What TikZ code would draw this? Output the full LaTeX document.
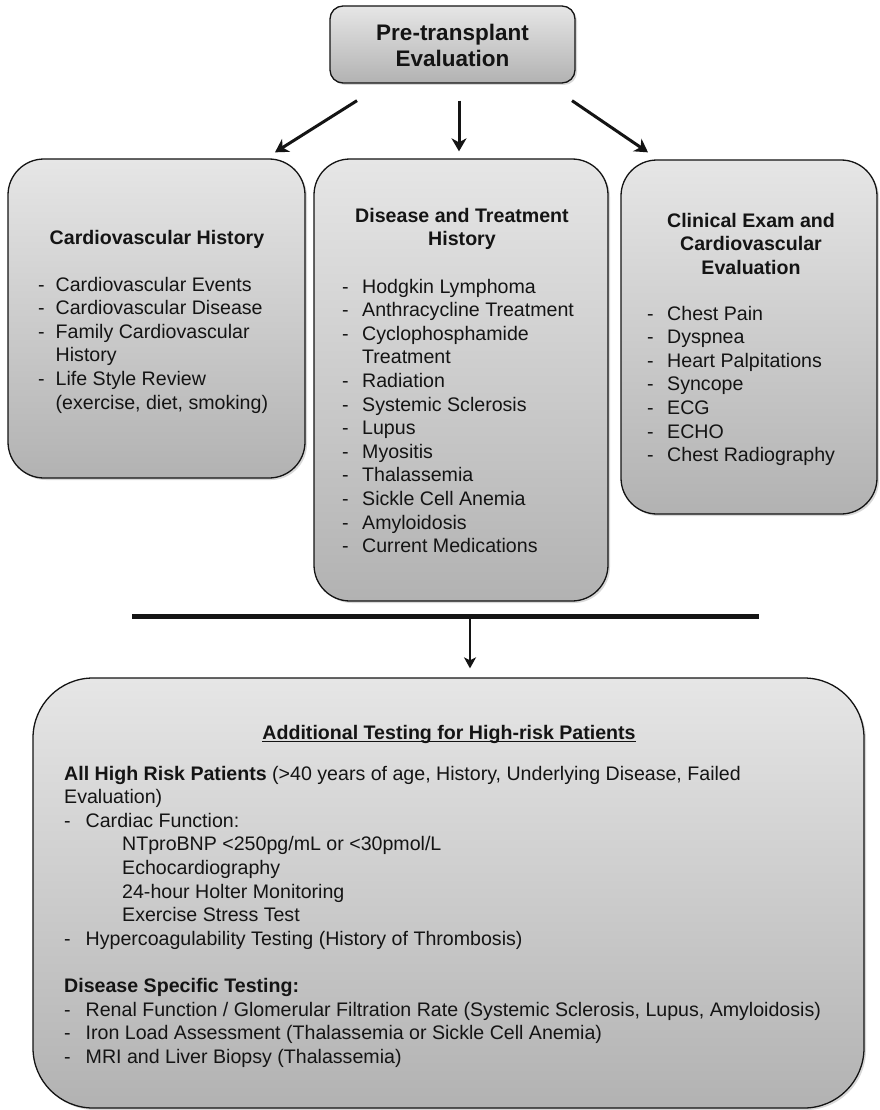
\documentclass[tikz,border=0pt]{standalone}
\usepackage{fontspec}
\setmainfont{Liberation Sans}
\usetikzlibrary{arrows.meta,shadows}
\definecolor{boxtop}{RGB}{230,230,230}
\definecolor{boxbot}{RGB}{178,178,178}
\definecolor{ink}{RGB}{20,20,20}
\newcommand\myitem[1][20pt]{\makebox[#1][l]{-}}
\newcommand\mycont[1][20pt]{\hspace*{#1}}
\newcommand\mysize{\fontsize{19.6}{23.6}\selectfont}
\newcommand\myul[1]{\setbox0\hbox{#1}\rlap{\rule[-3pt]{\wd0}{1.5pt}}\box0}
\begin{document}
\begin{tikzpicture}[x=1pt,y=-1pt,
  box/.style={draw=ink, line width=1.3pt, top color=boxtop, bottom color=boxbot, rectangle, inner sep=0pt,
    drop shadow={shadow xshift=2pt,shadow yshift=-2pt,opacity=0.3}},
  txt/.style={inner sep=0pt, font=\mysize, text=ink},
  arr/.style={line width=3pt, draw=ink, -{Stealth[length=13pt,width=15pt,inset=4pt]}},
  arrb/.style={line width=2pt, draw=ink, -{Stealth[length=11pt,width=12pt,inset=3pt]}}]

\fill[white] (0,0) rectangle (879,1110);
\useasboundingbox (0,0) rectangle (879,1110);

% boxes
\node[box, rounded corners=13pt, minimum width=245pt, minimum height=77pt] (top) at (452.5,44.5) {};
\node[box, rounded corners=36pt, minimum width=297pt, minimum height=319pt] (cv) at (156.5,318.5) {};
\node[box, rounded corners=36pt, minimum width=294pt, minimum height=442pt] (dt) at (461,380) {};
\node[box, rounded corners=36pt, minimum width=256pt, minimum height=354pt] (ce) at (749,337) {};
\node[box, rounded corners=60pt, minimum width=831pt, minimum height=430pt] (bot) at (448.5,893) {};

% top text
\node[txt, anchor=base, font=\fontsize{22.5}{26}\selectfont\bfseries] (toptxt) at (452.5,41)
  {\begin{tabular}[t]{@{}c@{}}Pre-transplant\\Evaluation\end{tabular}};

% left box
\node[txt, anchor=base, font=\mysize\bfseries] (cvtitle) at (157,244) {Cardiovascular History};
\node[txt, anchor=base west] (cvlist) at (38,291) {\begin{tabular}[t]{@{}l@{}}
\myitem[17.5pt]Cardiovascular Events\\
\myitem[17.5pt]Cardiovascular Disease\\
\myitem[17.5pt]Family Cardiovascular\\
\mycont[17.5pt]History\\
\myitem[17.5pt]Life Style Review\\
\mycont[17.5pt](exercise, diet, smoking)
\end{tabular}};

% middle box
\node[txt, anchor=base, font=\mysize\bfseries] (dttitle) at (462,222)
  {\begin{tabular}[t]{@{}c@{}}Disease and Treatment\\History\end{tabular}};
\node[txt, anchor=base west] (dtlist) at (342,293) {\begin{tabular}[t]{@{}l@{}}
\myitem Hodgkin Lymphoma\\
\myitem Anthracycline Treatment\\
\myitem Cyclophosphamide\\
\mycont Treatment\\
\myitem Radiation\\
\myitem Systemic Sclerosis\\
\myitem Lupus\\
\myitem Myositis\\
\myitem Thalassemia\\
\myitem Sickle Cell Anemia\\
\myitem Amyloidosis\\
\myitem Current Medications
\end{tabular}};

% right box
\node[txt, anchor=base, font=\mysize\bfseries] (cetitle) at (751,227)
  {\begin{tabular}[t]{@{}c@{}}Clinical Exam and\\Cardiovascular\\Evaluation\end{tabular}};
\node[txt, anchor=base west] (celist) at (647,320) {\begin{tabular}[t]{@{}l@{}}
\myitem Chest Pain\\
\myitem Dyspnea\\
\myitem Heart Palpitations\\
\myitem Syncope\\
\myitem ECG\\
\myitem ECHO\\
\myitem Chest Radiography
\end{tabular}};

% bottom box
\node[txt, anchor=base, font=\mysize\bfseries] (bttitle) at (449,739)
  {\myul{Additional Testing for High-risk Patients}};
\node[txt, anchor=base west] (btlist) at (64,780) {\begin{tabular}[t]{@{}l@{}}
\textbf{All High Risk Patients} (>40 years of age, History, Underlying Disease, Failed\\
Evaluation)\\
\myitem[21.5pt]Cardiac Function:\\
\mycont[58pt]NTproBNP <250pg/mL or <30pmol/L\\
\mycont[58pt]Echocardiography\\
\mycont[58pt]24-hour Holter Monitoring\\
\mycont[58pt]Exercise Stress Test\\
\myitem[21.5pt]Hypercoagulability Testing (History of Thrombosis)\\
\\
\textbf{Disease Specific Testing:}\\
\myitem[21.5pt]Renal Function / Glomerular Filtration Rate (Systemic Sclerosis, Lupus, Amyloidosis)\\
\myitem[21.5pt]Iron Load Assessment (Thalassemia or Sickle Cell Anemia)\\
\myitem[21.5pt]MRI and Liver Biopsy (Thalassemia)
\end{tabular}};

% arrows
\draw[arr] ([xshift=-95.5pt,yshift=-17pt]top.south) -- ([xshift=118.5pt,yshift=6pt]cv.north);
\draw[arr] ([xshift=6.5pt,yshift=-17pt]top.south) -- ([xshift=-2pt,yshift=7pt]dt.north);
\draw[arr] ([xshift=119.5pt,yshift=-17pt]top.south) -- ([xshift=-101pt,yshift=7pt]ce.north);

% bar and final arrow
\coordinate (barL) at (132,616);
\coordinate (barR) at (759,616);
\coordinate (barM) at (470,616);
\draw[line width=5pt, draw=ink] (barL) -- (barR);
\draw[arrb] (barM) -- ([xshift=21.5pt,yshift=9pt]bot.north);
\end{tikzpicture}
\end{document}
